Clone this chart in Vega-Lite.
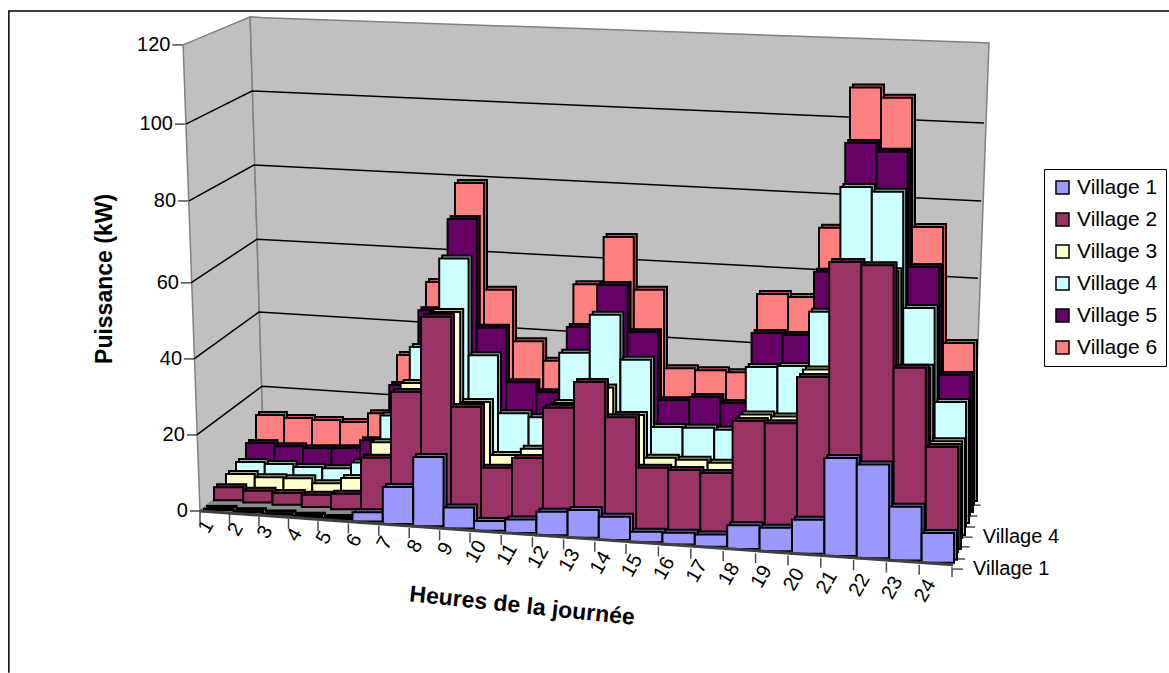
{"$schema":"https://vega.github.io/schema/vega-lite/v6.json","width":1169,"height":673,"autosize":"none","padding":0,"background":"white",
"config":{"view":{"stroke":null},"font":"Liberation Sans"},
"datasets":{
"conso":[
{"v":"Village 1","d":0,"h":1,"kw":0.3},{"v":"Village 1","d":1,"h":2,"kw":0.3},{"v":"Village 1","d":2,"h":3,"kw":0.3},{"v":"Village 1","d":3,"h":4,"kw":0.3},{"v":"Village 1","d":4,"h":5,"kw":0.3},{"v":"Village 1","d":5,"h":6,"kw":2.2},{"v":"Village 1","d":6,"h":7,"kw":8.8},{"v":"Village 1","d":7,"h":8,"kw":16.5},{"v":"Village 1","d":8,"h":9,"kw":5},{"v":"Village 1","d":9,"h":10,"kw":2.3},{"v":"Village 1","d":10,"h":11,"kw":3.2},{"v":"Village 1","d":11,"h":12,"kw":5.6},{"v":"Village 1","d":12,"h":13,"kw":6.6},{"v":"Village 1","d":13,"h":14,"kw":5.5},{"v":"Village 1","d":14,"h":15,"kw":2.5},{"v":"Village 1","d":15,"h":16,"kw":2.8},{"v":"Village 1","d":16,"h":17,"kw":2.9},{"v":"Village 1","d":17,"h":18,"kw":5.7},{"v":"Village 1","d":18,"h":19,"kw":5.6},{"v":"Village 1","d":19,"h":20,"kw":8.1},{"v":"Village 1","d":20,"h":21,"kw":23.3},{"v":"Village 1","d":21,"h":22,"kw":22.3},{"v":"Village 1","d":22,"h":23,"kw":12.8},{"v":"Village 1","d":23,"h":24,"kw":7.1},
{"v":"Village 2","d":0,"h":1,"kw":3.1},{"v":"Village 2","d":1,"h":2,"kw":2.8},{"v":"Village 2","d":2,"h":3,"kw":2.8},{"v":"Village 2","d":3,"h":4,"kw":2.9},{"v":"Village 2","d":4,"h":5,"kw":3.7},{"v":"Village 2","d":5,"h":6,"kw":12.9},{"v":"Village 2","d":6,"h":7,"kw":29.3},{"v":"Village 2","d":7,"h":8,"kw":48},{"v":"Village 2","d":8,"h":9,"kw":26.8},{"v":"Village 2","d":9,"h":10,"kw":12.7},{"v":"Village 2","d":10,"h":11,"kw":15.6},{"v":"Village 2","d":11,"h":12,"kw":28.2},{"v":"Village 2","d":12,"h":13,"kw":35},{"v":"Village 2","d":13,"h":14,"kw":27},{"v":"Village 2","d":14,"h":15,"kw":15.4},{"v":"Village 2","d":15,"h":16,"kw":15.4},{"v":"Village 2","d":16,"h":17,"kw":15.2},{"v":"Village 2","d":17,"h":18,"kw":28.3},{"v":"Village 2","d":18,"h":19,"kw":28.3},{"v":"Village 2","d":19,"h":20,"kw":40},{"v":"Village 2","d":20,"h":21,"kw":68.2},{"v":"Village 2","d":21,"h":22,"kw":68},{"v":"Village 2","d":22,"h":23,"kw":43.8},{"v":"Village 2","d":23,"h":24,"kw":25.3},
{"v":"Village 3","d":0,"h":1,"kw":3.7},{"v":"Village 3","d":1,"h":2,"kw":3.4},{"v":"Village 3","d":2,"h":3,"kw":3.7},{"v":"Village 3","d":3,"h":4,"kw":3},{"v":"Village 3","d":4,"h":5,"kw":4.8},{"v":"Village 3","d":5,"h":6,"kw":14},{"v":"Village 3","d":6,"h":7,"kw":29},{"v":"Village 3","d":7,"h":8,"kw":46.8},{"v":"Village 3","d":8,"h":9,"kw":25.4},{"v":"Village 3","d":9,"h":10,"kw":13},{"v":"Village 3","d":10,"h":11,"kw":15},{"v":"Village 3","d":11,"h":12,"kw":26.7},{"v":"Village 3","d":12,"h":13,"kw":31},{"v":"Village 3","d":13,"h":14,"kw":24.8},{"v":"Village 3","d":14,"h":15,"kw":14.9},{"v":"Village 3","d":15,"h":16,"kw":14.9},{"v":"Village 3","d":16,"h":17,"kw":14.7},{"v":"Village 3","d":17,"h":18,"kw":27},{"v":"Village 3","d":18,"h":19,"kw":27},{"v":"Village 3","d":19,"h":20,"kw":39},{"v":"Village 3","d":20,"h":21,"kw":64},{"v":"Village 3","d":21,"h":22,"kw":64},{"v":"Village 3","d":22,"h":23,"kw":41},{"v":"Village 3","d":23,"h":24,"kw":23.6},
{"v":"Village 4","d":0,"h":1,"kw":4.2},{"v":"Village 4","d":1,"h":2,"kw":4.2},{"v":"Village 4","d":2,"h":3,"kw":4},{"v":"Village 4","d":3,"h":4,"kw":4.2},{"v":"Village 4","d":4,"h":5,"kw":6.1},{"v":"Village 4","d":5,"h":6,"kw":18.2},{"v":"Village 4","d":6,"h":7,"kw":35.6},{"v":"Village 4","d":7,"h":8,"kw":58},{"v":"Village 4","d":8,"h":9,"kw":34.6},{"v":"Village 4","d":9,"h":10,"kw":20.8},{"v":"Village 4","d":10,"h":11,"kw":20.3},{"v":"Village 4","d":11,"h":12,"kw":36.7},{"v":"Village 4","d":12,"h":13,"kw":46.6},{"v":"Village 4","d":13,"h":14,"kw":36},{"v":"Village 4","d":14,"h":15,"kw":19.9},{"v":"Village 4","d":15,"h":16,"kw":20.2},{"v":"Village 4","d":16,"h":17,"kw":20.2},{"v":"Village 4","d":17,"h":18,"kw":36.2},{"v":"Village 4","d":18,"h":19,"kw":37},{"v":"Village 4","d":19,"h":20,"kw":50.9},{"v":"Village 4","d":20,"h":21,"kw":82.2},{"v":"Village 4","d":21,"h":22,"kw":81.5},{"v":"Village 4","d":22,"h":23,"kw":53.3},{"v":"Village 4","d":23,"h":24,"kw":30.6},
{"v":"Village 5","d":0,"h":1,"kw":6.5},{"v":"Village 5","d":1,"h":2,"kw":6.2},{"v":"Village 5","d":2,"h":3,"kw":6.2},{"v":"Village 5","d":3,"h":4,"kw":6.7},{"v":"Village 5","d":4,"h":5,"kw":9.2},{"v":"Village 5","d":5,"h":6,"kw":23.5},{"v":"Village 5","d":6,"h":7,"kw":42.7},{"v":"Village 5","d":7,"h":8,"kw":66},{"v":"Village 5","d":8,"h":9,"kw":39.3},{"v":"Village 5","d":9,"h":10,"kw":26.2},{"v":"Village 5","d":10,"h":11,"kw":24.2},{"v":"Village 5","d":11,"h":12,"kw":41},{"v":"Village 5","d":12,"h":13,"kw":52},{"v":"Village 5","d":13,"h":14,"kw":40.7},{"v":"Village 5","d":14,"h":15,"kw":24.2},{"v":"Village 5","d":15,"h":16,"kw":25.5},{"v":"Village 5","d":16,"h":17,"kw":24.5},{"v":"Village 5","d":17,"h":18,"kw":42.5},{"v":"Village 5","d":18,"h":19,"kw":42.5},{"v":"Village 5","d":19,"h":20,"kw":58.8},{"v":"Village 5","d":20,"h":21,"kw":91.5},{"v":"Village 5","d":21,"h":22,"kw":89.8},{"v":"Village 5","d":22,"h":23,"kw":61.5},{"v":"Village 5","d":23,"h":24,"kw":35},
{"v":"Village 6","d":0,"h":1,"kw":11.4},{"v":"Village 6","d":1,"h":2,"kw":11.1},{"v":"Village 6","d":2,"h":3,"kw":11.1},{"v":"Village 6","d":3,"h":4,"kw":11.1},{"v":"Village 6","d":4,"h":5,"kw":13.8},{"v":"Village 6","d":5,"h":6,"kw":29},{"v":"Village 6","d":6,"h":7,"kw":48},{"v":"Village 6","d":7,"h":8,"kw":73.5},{"v":"Village 6","d":8,"h":9,"kw":47},{"v":"Village 6","d":9,"h":10,"kw":34.4},{"v":"Village 6","d":10,"h":11,"kw":30},{"v":"Village 6","d":11,"h":12,"kw":49.8},{"v":"Village 6","d":12,"h":13,"kw":62.3},{"v":"Village 6","d":13,"h":14,"kw":49.4},{"v":"Village 6","d":14,"h":15,"kw":30},{"v":"Village 6","d":15,"h":16,"kw":30},{"v":"Village 6","d":16,"h":17,"kw":30},{"v":"Village 6","d":17,"h":18,"kw":50.3},{"v":"Village 6","d":18,"h":19,"kw":50},{"v":"Village 6","d":19,"h":20,"kw":68},{"v":"Village 6","d":20,"h":21,"kw":104},{"v":"Village 6","d":21,"h":22,"kw":101.9},{"v":"Village 6","d":22,"h":23,"kw":69.7},{"v":"Village 6","d":23,"h":24,"kw":40.8}],
"parois":[
{"p":"gauche","x":-0.54,"t":119.5,"b":119.5},{"p":"gauche","x":0,"t":121.3,"b":0},{"p":"gauche","x":1.6,"t":126.7,"b":10.4},{"p":"gauche","x":2.04,"t":13.3,"b":13.3},
{"p":"fond","x":1.6,"t":126.7,"b":126.7},{"p":"fond","x":2.04,"t":126.5,"b":13.3},{"p":"fond","x":24.64,"t":120.2,"b":1.5},{"p":"fond","x":25.18,"t":120,"b":120}],
"sol":[{"p":"sol","x":0,"t":0,"b":0},{"p":"sol","x":2.04,"t":13.3,"b":-1.2},{"p":"sol","x":24.03,"t":1.8,"b":-13.8},{"p":"sol","x":24.64,"t":1.5,"b":1.5}],
"lignes":[
{"g":"100","i":0,"x":-0.45,"y":99.2},{"g":"100","i":1,"x":1.66,"y":107.7},{"g":"100","i":2,"x":25.02,"y":99.5},
{"g":"80","i":0,"x":-0.35,"y":79.5},{"g":"80","i":1,"x":1.72,"y":88.7},{"g":"80","i":2,"x":24.93,"y":79.5},
{"g":"60","i":0,"x":-0.29,"y":58.5},{"g":"60","i":1,"x":1.82,"y":69.7},{"g":"60","i":2,"x":24.83,"y":59.7},
{"g":"40","i":0,"x":-0.19,"y":39},{"g":"40","i":1,"x":1.88,"y":51},{"g":"40","i":2,"x":24.73,"y":39.7},
{"g":"20","i":0,"x":-0.1,"y":19.5},{"g":"20","i":1,"x":1.98,"y":32},{"g":"20","i":2,"x":24.67,"y":20},
{"g":"cadre","i":0,"x":-6.1,"y":-41.5},{"g":"cadre","i":1,"x":-6.1,"y":128.2},{"g":"cadre","i":2,"x":30.93,"y":128.2}],
"aretes":[{"g":"avant","i":0,"x":0,"y":0},{"g":"avant","i":1,"x":24.03,"y":-13.8}],
"graduations":[{"x":-0.16,"y":0,"t":"0"},{"x":-0.26,"y":19.5,"t":"20"},{"x":-0.35,"y":39,"t":"40"},{"x":-0.45,"y":58.5,"t":"60"},{"x":-0.54,"y":79.5,"t":"80"},{"x":-0.64,"y":99.2,"t":"100"},{"x":-0.72,"y":119.5,"t":"120"}],
"profondeur":[{"x":24.19,"y":-14.9,"t":"Village 1"},{"x":24.26,"y":-12.3,"t":""},{"x":24.4,"y":-9.2,"t":""},{"x":24.5,"y":-6.7,"t":"Village 4"},{"x":24.58,"y":-4.1,"t":""},{"x":24.65,"y":-1.3,"t":""},{"x":24.75,"y":1.5,"t":""}],
"heures":[{"d":0,"h":1},{"d":1,"h":2},{"d":2,"h":3},{"d":3,"h":4},{"d":4,"h":5},{"d":5,"h":6},{"d":6,"h":7},{"d":7,"h":8},{"d":8,"h":9},{"d":9,"h":10},{"d":10,"h":11},{"d":11,"h":12},{"d":12,"h":13},{"d":13,"h":14},{"d":14,"h":15},{"d":15,"h":16},{"d":16,"h":17},{"d":17,"h":18},{"d":18,"h":19},{"d":19,"h":20},{"d":20,"h":21},{"d":21,"h":22},{"d":22,"h":23},{"d":23,"h":24},{"d":24}],
"titres":[{"t":"Puissance (kW)","x":-3.03,"y":59.5,"a":270},{"t":"Heures de la journ\u00e9e","x":10.28,"y":-24.4,"a":6}]
},
"resolve":{"scale":{"x":"independent","y":"independent"}},
"layer":[
{"data":{"name":"parois"},"mark":{"type":"area","fill":"#c0c0c0","stroke":"#808080","strokeWidth":1.5},"encoding":{"detail":{"field":"p"},"x":{"field":"x","type":"quantitative","axis":null,"scale":{"domain":[0,24],"range":[200,952]}},"y":{"field":"t","type":"quantitative","axis":null,"scale":{"domain":[0,120],"range":[511,43]}},"y2":{"field":"b"}}},
{"data":{"name":"sol"},"mark":{"type":"area","fill":"#8c8c8c","stroke":"#808080","strokeWidth":1},"encoding":{"detail":{"field":"p"},"x":{"field":"x","type":"quantitative","axis":null,"scale":{"domain":[0,24],"range":[200,952]}},"y":{"field":"t","type":"quantitative","axis":null,"scale":{"domain":[0,120],"range":[511,43]}},"y2":{"field":"b"}}},
{"data":{"name":"lignes"},"mark":{"type":"line","stroke":"black","strokeWidth":1.5},"encoding":{"detail":{"field":"g"},"order":{"field":"i"},"x":{"field":"x","type":"quantitative","axis":null,"scale":{"domain":[0,24],"range":[200,952]}},"y":{"field":"y","type":"quantitative","axis":null,"scale":{"domain":[0,120],"range":[511,43]}}}},

{"data":{"name":"conso"},"transform":[{"filter":"datum.v==='Village 6'"}],"mark":{"type":"bar","fill":"#c85a5a","stroke":"black","strokeWidth":2,"yOffset":{"expr":"1.92*(datum.h-0.5)"},"y2Offset":{"expr":"1.92*(datum.h-0.5)"}},"encoding":{"x":{"field":"d","type":"quantitative","axis":null,"scale":{"domain":[0,4,9,14,19,24],"range":[259,371,516,667,822,977]}},"x2":{"field":"h"},"y":{"field":"kw","type":"quantitative","axis":null,"stack":null,"scale":{"domain":[0,120],"range":[456,-18]}},"y2":{"datum":0}}},
{"data":{"name":"conso"},"transform":[{"filter":"datum.v==='Village 6'"}],"mark":{"type":"bar","stroke":"black","strokeWidth":2,"yOffset":{"expr":"1.92*(datum.h-0.5)"},"y2Offset":{"expr":"1.92*(datum.h-0.5)"}},"encoding":{"color":{"field":"v","type":"nominal","scale":{"domain":["Village 1","Village 2","Village 3","Village 4","Village 5","Village 6"],"range":["#9999FF","#993366","#FFFFCC","#CCFFFF","#660066","#FF8080"]},"legend":{"title":null,"orient":"none","legendX":1044,"legendY":169,"padding":8,"strokeColor":"black","fillColor":"white","symbolType":"square","symbolSize":170,"symbolStrokeColor":"black","symbolStrokeWidth":1.5,"symbolOpacity":1,"labelFontSize":21,"labelColor":"black","labelFont":"Liberation Sans","rowPadding":10}},"x":{"field":"d","type":"quantitative","axis":null,"scale":{"domain":[0,4,9,14,19,24],"range":[256,368,513,664,819,974]}},"x2":{"field":"h"},"y":{"field":"kw","type":"quantitative","axis":null,"stack":null,"scale":{"domain":[0,120],"range":[459,-15]}},"y2":{"datum":0}}},

{"data":{"name":"conso"},"transform":[{"filter":"datum.v==='Village 5'"}],"mark":{"type":"bar","fill":"#330033","stroke":"black","strokeWidth":2,"yOffset":{"expr":"2*(datum.h-0.5)"},"y2Offset":{"expr":"2*(datum.h-0.5)"}},"encoding":{"x":{"field":"d","type":"quantitative","axis":null,"scale":{"domain":[0,4,9,14,19,24],"range":[249,363,509,661,817,973]}},"x2":{"field":"h"},"y":{"field":"kw","type":"quantitative","axis":null,"stack":null,"scale":{"domain":[0,120],"range":[465,-15]}},"y2":{"datum":0}}},
{"data":{"name":"conso"},"transform":[{"filter":"datum.v==='Village 5'"}],"mark":{"type":"bar","stroke":"black","strokeWidth":2,"yOffset":{"expr":"2*(datum.h-0.5)"},"y2Offset":{"expr":"2*(datum.h-0.5)"}},"encoding":{"color":{"field":"v","type":"nominal"},"x":{"field":"d","type":"quantitative","axis":null,"scale":{"domain":[0,4,9,14,19,24],"range":[246,360,506,658,814,970]}},"x2":{"field":"h"},"y":{"field":"kw","type":"quantitative","axis":null,"stack":null,"scale":{"domain":[0,120],"range":[468,-12]}},"y2":{"datum":0}}},

{"data":{"name":"conso"},"transform":[{"filter":"datum.v==='Village 4'"}],"mark":{"type":"bar","fill":"#8cb4b4","stroke":"black","strokeWidth":2,"yOffset":{"expr":"2.04*(datum.h-0.5)"},"y2Offset":{"expr":"2.04*(datum.h-0.5)"}},"encoding":{"x":{"field":"d","type":"quantitative","axis":null,"scale":{"domain":[0,4,9,14,19,24],"range":[239,354,501,654,812,969]}},"x2":{"field":"h"},"y":{"field":"kw","type":"quantitative","axis":null,"stack":null,"scale":{"domain":[0,120],"range":[475,-11]}},"y2":{"datum":0}}},
{"data":{"name":"conso"},"transform":[{"filter":"datum.v==='Village 4'"}],"mark":{"type":"bar","stroke":"black","strokeWidth":2,"yOffset":{"expr":"2.04*(datum.h-0.5)"},"y2Offset":{"expr":"2.04*(datum.h-0.5)"}},"encoding":{"color":{"field":"v","type":"nominal"},"x":{"field":"d","type":"quantitative","axis":null,"scale":{"domain":[0,4,9,14,19,24],"range":[236,351,498,651,809,966]}},"x2":{"field":"h"},"y":{"field":"kw","type":"quantitative","axis":null,"stack":null,"scale":{"domain":[0,120],"range":[478,-8]}},"y2":{"datum":0}}},

{"data":{"name":"conso"},"transform":[{"filter":"datum.v==='Village 3'"}],"mark":{"type":"bar","fill":"#b0b08c","stroke":"black","strokeWidth":2,"yOffset":{"expr":"2.125*(datum.h-0.5)"},"y2Offset":{"expr":"2.125*(datum.h-0.5)"}},"encoding":{"x":{"field":"d","type":"quantitative","axis":null,"scale":{"domain":[0,4,9,14,19,24],"range":[229,344,493,647,806,965]}},"x2":{"field":"h"},"y":{"field":"kw","type":"quantitative","axis":null,"stack":null,"scale":{"domain":[0,120],"range":[485,-7]}},"y2":{"datum":0}}},
{"data":{"name":"conso"},"transform":[{"filter":"datum.v==='Village 3'"}],"mark":{"type":"bar","stroke":"black","strokeWidth":2,"yOffset":{"expr":"2.125*(datum.h-0.5)"},"y2Offset":{"expr":"2.125*(datum.h-0.5)"}},"encoding":{"color":{"field":"v","type":"nominal"},"x":{"field":"d","type":"quantitative","axis":null,"scale":{"domain":[0,4,9,14,19,24],"range":[226,341,490,644,803,962]}},"x2":{"field":"h"},"y":{"field":"kw","type":"quantitative","axis":null,"stack":null,"scale":{"domain":[0,120],"range":[488,-4]}},"y2":{"datum":0}}},

{"data":{"name":"conso"},"transform":[{"filter":"datum.v==='Village 2'"}],"mark":{"type":"bar","fill":"#661f44","stroke":"black","strokeWidth":2,"yOffset":{"expr":"2.25*(datum.h-0.5)"},"y2Offset":{"expr":"2.25*(datum.h-0.5)"}},"encoding":{"x":{"field":"d","type":"quantitative","axis":null,"scale":{"domain":[0,4,9,14,19,24],"range":[217,334,484,639,800,961]}},"x2":{"field":"h"},"y":{"field":"kw","type":"quantitative","axis":null,"stack":null,"scale":{"domain":[0,120],"range":[496,-2]}},"y2":{"datum":0}}},
{"data":{"name":"conso"},"transform":[{"filter":"datum.v==='Village 2'"}],"mark":{"type":"bar","stroke":"black","strokeWidth":2,"yOffset":{"expr":"2.25*(datum.h-0.5)"},"y2Offset":{"expr":"2.25*(datum.h-0.5)"}},"encoding":{"color":{"field":"v","type":"nominal"},"x":{"field":"d","type":"quantitative","axis":null,"scale":{"domain":[0,4,9,14,19,24],"range":[214,331,481,636,797,958]}},"x2":{"field":"h"},"y":{"field":"kw","type":"quantitative","axis":null,"stack":null,"scale":{"domain":[0,120],"range":[499,1]}},"y2":{"datum":0}}},

{"data":{"name":"conso"},"transform":[{"filter":"datum.v==='Village 1'"}],"mark":{"type":"bar","fill":"#7070c0","stroke":"black","strokeWidth":2,"yOffset":{"expr":"2.29*(datum.h-0.5)"},"y2Offset":{"expr":"2.29*(datum.h-0.5)"}},"encoding":{"x":{"field":"d","type":"quantitative","axis":null,"scale":{"domain":[0,4,9,14,19,24],"range":[207,325,477,633,795,957]}},"x2":{"field":"h"},"y":{"field":"kw","type":"quantitative","axis":null,"stack":null,"scale":{"domain":[0,120],"range":[506,2]}},"y2":{"datum":0}}},
{"data":{"name":"conso"},"transform":[{"filter":"datum.v==='Village 1'"}],"mark":{"type":"bar","stroke":"black","strokeWidth":2,"yOffset":{"expr":"2.29*(datum.h-0.5)"},"y2Offset":{"expr":"2.29*(datum.h-0.5)"}},"encoding":{"color":{"field":"v","type":"nominal"},"x":{"field":"d","type":"quantitative","axis":null,"scale":{"domain":[0,4,9,14,19,24],"range":[204,322,474,630,792,954]}},"x2":{"field":"h"},"y":{"field":"kw","type":"quantitative","axis":null,"stack":null,"scale":{"domain":[0,120],"range":[509,5]}},"y2":{"datum":0}}},

{"data":{"name":"aretes"},"mark":{"type":"line","stroke":"#404040","strokeWidth":3},"encoding":{"detail":{"field":"g"},"order":{"field":"i"},"x":{"field":"x","type":"quantitative","axis":null,"scale":{"domain":[0,24],"range":[200,952]}},"y":{"field":"y","type":"quantitative","axis":null,"scale":{"domain":[0,120],"range":[511,43]}}}},
{"data":{"name":"heures"},"mark":{"type":"tick","orient":"vertical","size":10,"color":"black","thickness":1.5},"encoding":{"x":{"field":"d","type":"quantitative","axis":null,"scale":{"domain":[0,4,9,14,19,24],"range":[200,318,470,626,788,952]}},"y":{"field":"d","type":"quantitative","axis":null,"scale":{"domain":[0,24],"range":[517,572]}}}},
{"data":{"name":"heures"},"transform":[{"filter":"datum.h>0"}],"mark":{"type":"text","fontSize":20,"angle":300,"dx":12,"color":"black","font":"Liberation Sans"},"encoding":{"text":{"field":"h","type":"nominal"},"x":{"field":"d","type":"quantitative","axis":null,"scale":{"domain":[0,4,9,14,19,24],"range":[200,318,470,626,788,952]}},"y":{"field":"d","type":"quantitative","axis":null,"scale":{"domain":[0,23],"range":[537,601]}}}},
{"data":{"name":"graduations"},"mark":{"type":"tick","orient":"horizontal","size":10,"color":"black","thickness":1.5},"encoding":{"x":{"field":"x","type":"quantitative","axis":null,"scale":{"domain":[0,24],"range":[200,952]}},"y":{"field":"y","type":"quantitative","axis":null,"scale":{"domain":[0,120],"range":[511,43]}}}},
{"data":{"name":"graduations"},"mark":{"type":"text","fontSize":20,"align":"right","baseline":"middle","dx":-7,"color":"black","font":"Liberation Sans"},"encoding":{"text":{"field":"t"},"x":{"field":"x","type":"quantitative","axis":null,"scale":{"domain":[0,24],"range":[200,952]}},"y":{"field":"y","type":"quantitative","axis":null,"scale":{"domain":[0,120],"range":[511,43]}}}},
{"data":{"name":"profondeur"},"mark":{"type":"tick","orient":"horizontal","size":10,"color":"black","thickness":1.5},"encoding":{"x":{"field":"x","type":"quantitative","axis":null,"scale":{"domain":[0,24],"range":[200,952]}},"y":{"field":"y","type":"quantitative","axis":null,"scale":{"domain":[0,120],"range":[511,43]}}}},
{"data":{"name":"profondeur"},"mark":{"type":"text","fontSize":20,"align":"left","baseline":"middle","dx":15,"color":"black","font":"Liberation Sans"},"encoding":{"text":{"field":"t"},"x":{"field":"x","type":"quantitative","axis":null,"scale":{"domain":[0,24],"range":[200,952]}},"y":{"field":"y","type":"quantitative","axis":null,"scale":{"domain":[0,120],"range":[511,43]}}}},
{"data":{"name":"titres"},"mark":{"type":"text","fontSize":23,"fontWeight":"bold","align":"center","baseline":"middle","color":"black","font":"Liberation Sans"},"encoding":{"text":{"field":"t"},"angle":{"field":"a","type":"quantitative","scale":null},"x":{"field":"x","type":"quantitative","axis":null,"scale":{"domain":[0,24],"range":[200,952]}},"y":{"field":"y","type":"quantitative","axis":null,"scale":{"domain":[0,120],"range":[511,43]}}}}
]}
